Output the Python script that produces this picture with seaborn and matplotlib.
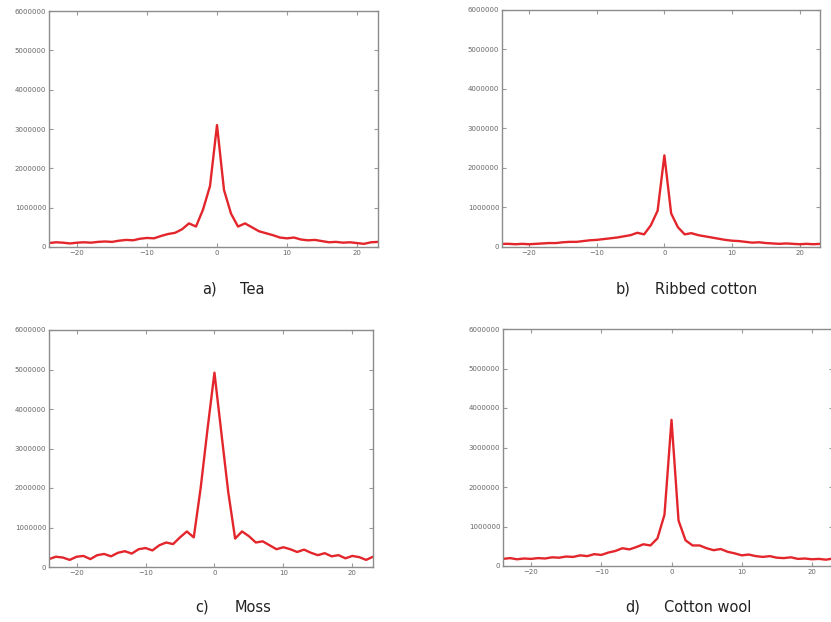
import numpy as np
import pandas as pd
import matplotlib
matplotlib.use("Agg")
import matplotlib.pyplot as plt
import seaborn as sns

# ---- data (values in intensity units) ----
shift = list(range(-24, 24))

tea = [0.10, 0.12, 0.11, 0.09, 0.11, 0.12, 0.11, 0.13, 0.14, 0.13, 0.16, 0.18,
       0.17, 0.21, 0.23, 0.22, 0.28, 0.33, 0.36, 0.45, 0.60, 0.52, 0.95, 1.55,
       3.10, 1.45, 0.85, 0.52, 0.60, 0.50, 0.40, 0.35, 0.30, 0.24, 0.22, 0.24,
       0.19, 0.17, 0.18, 0.15, 0.12, 0.13, 0.11, 0.12, 0.10, 0.08, 0.12, 0.13]

ribbed_cotton = [0.08, 0.08, 0.07, 0.08, 0.07, 0.08, 0.09, 0.10, 0.10, 0.12, 0.13, 0.13,
                 0.15, 0.17, 0.18, 0.20, 0.22, 0.24, 0.27, 0.30, 0.36, 0.32, 0.55, 0.92,
                 2.32, 0.85, 0.50, 0.32, 0.35, 0.30, 0.27, 0.24, 0.21, 0.18, 0.16, 0.15,
                 0.13, 0.11, 0.12, 0.10, 0.09, 0.08, 0.09, 0.08, 0.07, 0.08, 0.07, 0.08]

moss = [0.20, 0.26, 0.24, 0.18, 0.26, 0.28, 0.20, 0.30, 0.33, 0.27, 0.36, 0.40,
        0.34, 0.45, 0.48, 0.42, 0.55, 0.62, 0.58, 0.75, 0.90, 0.75, 2.00, 3.50,
        4.92, 3.40, 1.90, 0.72, 0.90, 0.78, 0.62, 0.65, 0.55, 0.45, 0.50, 0.45,
        0.38, 0.44, 0.36, 0.30, 0.35, 0.27, 0.30, 0.22, 0.28, 0.25, 0.18, 0.26]

cotton_wool = [0.18, 0.20, 0.17, 0.19, 0.18, 0.20, 0.19, 0.22, 0.21, 0.24, 0.23, 0.27,
               0.25, 0.30, 0.28, 0.34, 0.38, 0.45, 0.42, 0.48, 0.55, 0.52, 0.70, 1.30,
               3.70, 1.15, 0.65, 0.52, 0.52, 0.45, 0.40, 0.43, 0.36, 0.32, 0.27, 0.29,
               0.25, 0.23, 0.25, 0.21, 0.20, 0.22, 0.18, 0.19, 0.17, 0.18, 0.16, 0.19]

scale = 1_000_000
series = [tea, ribbed_cotton, moss, cotton_wool]
panel_labels = ["a)", "b)", "c)", "d)"]
panel_names = ["Tea", "Ribbed cotton", "Moss", "Cotton wool"]
xticks = [-20, -10, 0, 10, 20]
yticks = [0, 1000000, 2000000, 3000000, 4000000, 5000000, 6000000]

# ---- figure ----
sns.set_style("white")
W, H = 831, 622
fig = plt.figure(figsize=(W / 100, H / 100), dpi=100)

# axes boxes in pixels: left, right, top, bottom
boxes = [(49, 378, 11, 247), (502, 820, 10, 247), (49, 373, 330, 567), (503, 833, 329, 566)]
# caption positions: (label x, name x, y) in pixels
caps = [(202, 240, 289), (616, 655, 289), (195, 235, 607), (625, 664, 607)]

for vals, (l, r, t, b), lab, name, (lx, nx, cy) in zip(series, boxes, panel_labels, panel_names, caps):
    ax = fig.add_axes([l / W, 1 - b / H, (r - l) / W, (b - t) / H])
    df = pd.DataFrame({"shift": shift, "value": np.array(vals) * scale})
    sns.lineplot(data=df, x="shift", y="value", ax=ax, color="#e3262b", linewidth=1.7)
    ax.set_xlim(-24, 23)
    ax.set_ylim(0, 6000000)
    ax.set_xticks(xticks)
    ax.set_yticks(yticks)
    ax.set_yticklabels([str(v) for v in yticks])
    ax.set_xlabel("")
    ax.set_ylabel("")
    ax.tick_params(direction="in", length=3, width=0.8, color="#999999",
                   labelsize=5, labelcolor="#666666", pad=2,
                   top=True, right=True, bottom=True, left=True)
    for sp in ax.spines.values():
        sp.set_color("#8c8c8c")
        sp.set_linewidth(1.0)
    fig.text(lx / W, 1 - cy / H, lab, ha="left", va="center", fontsize=10.5,
             color="#222222", family=["Liberation Sans Narrow", "DejaVu Sans"])
    fig.text(nx / W, 1 - cy / H, name, ha="left", va="center", fontsize=10.5,
             color="#222222", family=["Liberation Sans Narrow", "DejaVu Sans"])

fig.savefig("out.png", dpi=100)
